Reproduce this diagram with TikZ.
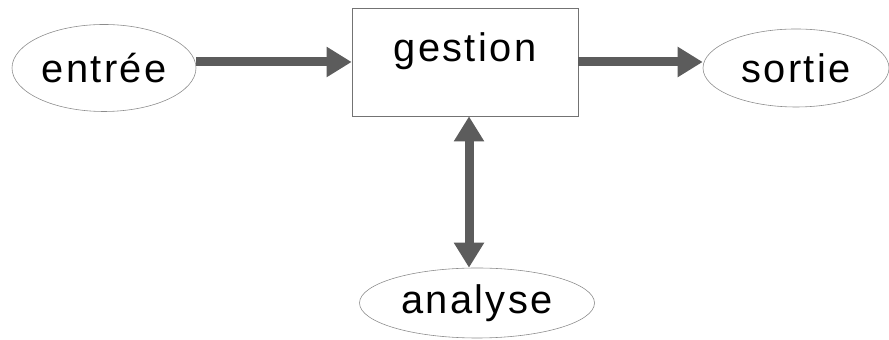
\documentclass[tikz,border=0pt]{standalone}
\usepackage{fontspec}
\setmainfont{Liberation Sans}[LetterSpace=6]
\usepackage{tikz}
\usetikzlibrary{arrows.meta, shapes.geometric}

\definecolor{flowgray}{RGB}{92,92,92}
\tikzset{
  term/.style={ellipse, draw=black!45, line width=0.5pt, inner sep=0pt},
  block/.style={rectangle, draw=black!55, line width=0.6pt},
  flow/.style={flowgray, line width=0.27cm,
    -{Triangle[width=0.86cm,length=0.75cm]}},
  twoflow/.style={flowgray, line width=0.27cm,
    {Triangle[width=0.86cm,length=0.75cm]}-{Triangle[width=0.86cm,length=0.75cm]}}
}

\begin{document}
\begin{tikzpicture}[font=\fontsize{34}{40}\selectfont]
  \useasboundingbox (0, 0) rectangle (26.67, 10.2);
  % nodes
  \node [term, minimum width=5.52cm, minimum height=2.61cm] (entree) at (3.12, 8.16) {entrée};
  \node [block, minimum width=6.78cm, minimum height=3.24cm, text height=0.8cm, text depth=0.8cm] (gestion) at (13.95, 8.34) {gestion};
  \node [term, minimum width=5.58cm, minimum height=2.34cm] (sortie) at (23.88, 8.16) {sortie};
  \node [term, minimum width=7.05cm, minimum height=2.1cm] (analyse) at (14.31, 1.11) {analyse};
  % connectors
  \draw [flow] (gestion.west -| entree.east) -- (gestion.west);
  \draw [flow] (gestion.east) -- (gestion.east -| sortie.west);
  \draw [twoflow] ([xshift=0.12cm]gestion.south) -- ([xshift=0.12cm]gestion.south |- analyse.north);
\end{tikzpicture}
\end{document}
